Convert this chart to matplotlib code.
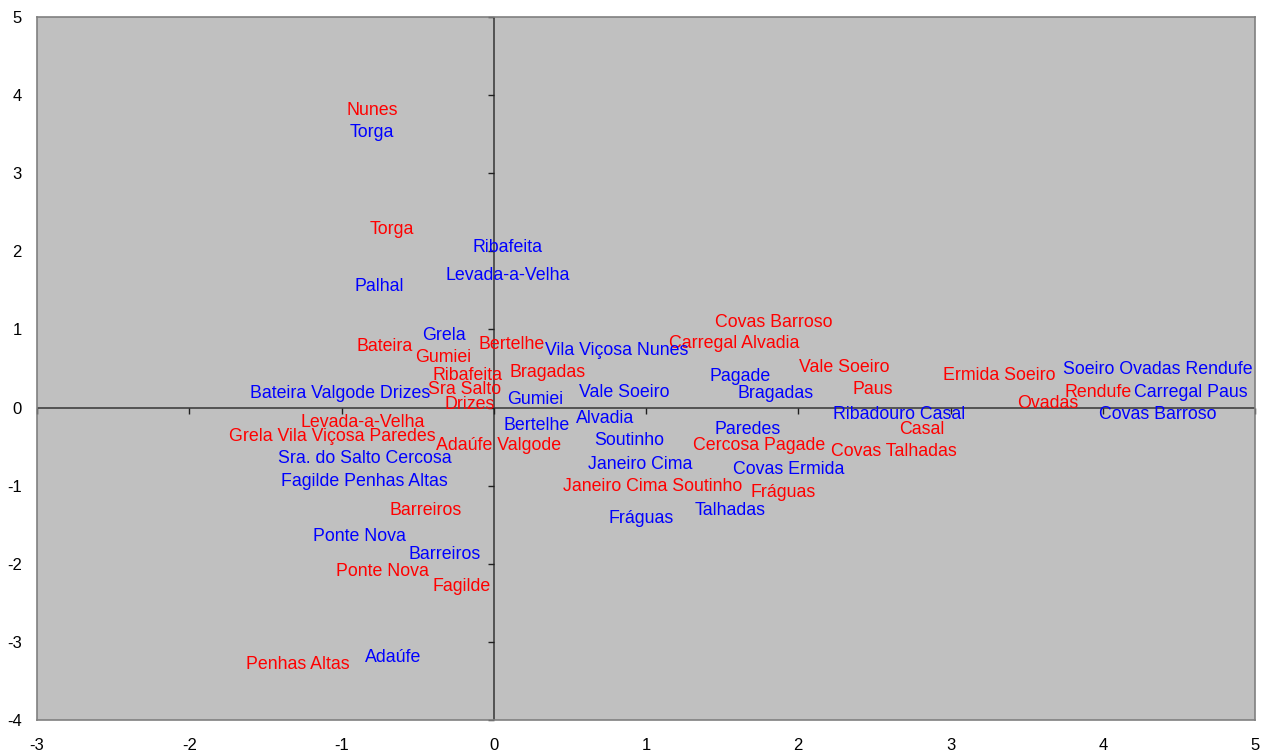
import numpy as np
import matplotlib.pyplot as plt

plt.rcParams["font.family"] = ["Liberation Sans", "DejaVu Sans"]
plt.rcParams["axes.unicode_minus"] = False

# Group 1 (red) - label and coordinates
red_labels = ["Nunes", "Torga", "Bateira", "Gumiei", "Bertelhe", "Ribafeita", "Bragadas",
              "Sra Salto", "Drizes", "Levada-a-Velha", "Grela Vila Viçosa Paredes",
              "Adaúfe Valgode", "Barreiros", "Ponte Nova", "Fagilde", "Penhas Altas",
              "Covas Barroso", "Carregal Alvadia", "Vale Soeiro", "Paus", "Ermida Soeiro",
              "Ovadas", "Rendufe", "Casal", "Covas Talhadas", "Cercosa Pagade",
              "Janeiro Cima Soutinho", "Fráguas"]
red_x = [-0.80, -0.67, -0.72, -0.33, 0.12, -0.17, 0.35,
         -0.19, -0.16, -0.86, -1.06,
         0.03, -0.45, -0.73, -0.21, -1.29,
         1.84, 1.58, 2.30, 2.49, 3.32,
         3.64, 3.97, 2.81, 2.63, 1.74,
         1.04, 1.90]
red_y = [3.83, 2.31, 0.81, 0.67, 0.83, 0.44, 0.47,
         0.26, 0.06, -0.17, -0.35,
         -0.46, -1.29, -2.07, -2.27, -3.27,
         1.11, 0.84, 0.54, 0.26, 0.44,
         0.08, 0.22, -0.25, -0.54, -0.46,
         -0.99, -1.06]

# Group 2 (blue)
blue_labels = ["Torga", "Ribafeita", "Levada-a-Velha", "Palhal", "Grela", "Vila Viçosa Nunes",
               "Gumiei", "Vale Soeiro", "Bateira Valgode Drizes", "Bertelhe", "Alvadia",
               "Soutinho", "Janeiro Cima", "Fráguas", "Sra. do Salto Cercosa",
               "Fagilde Penhas Altas", "Ponte Nova", "Barreiros", "Adaúfe", "Pagade",
               "Bragadas", "Paredes", "Covas Ermida", "Talhadas", "Ribadouro Casal",
               "Soeiro Ovadas Rendufe", "Carregal Paus", "Covas Barroso"]
blue_x = [-0.80, 0.09, 0.09, -0.75, -0.33, 0.81,
          0.27, 0.86, -1.01, 0.28, 0.73,
          0.89, 0.96, 0.97, -0.85,
          -0.85, -0.88, -0.32, -0.66, 1.62,
          1.85, 1.67, 1.94, 1.55, 2.66,
          4.36, 4.58, 4.36]
blue_y = [3.55, 2.08, 1.71, 1.57, 0.95, 0.75,
          0.13, 0.22, 0.20, -0.21, -0.11,
          -0.40, -0.70, -1.40, -0.63,
          -0.92, -1.63, -1.86, -3.17, 0.42,
          0.21, -0.25, -0.77, -1.29, -0.06,
          0.51, 0.22, -0.06]

xticks = np.arange(-3, 6)
yticks = np.arange(-4, 6)

fig = plt.figure(figsize=(12.65, 7.54), dpi=100)
ax = fig.add_axes([0.0293, 0.0451, 0.9628, 0.9324])
ax.set_facecolor("#C0C0C0")
ax.set_xlim(-3, 5)
ax.set_ylim(-4, 5)

for s in ax.spines.values():
    s.set_color("#808080")
    s.set_linewidth(1.2)

ax.set_xticks(xticks)
ax.set_yticks(yticks)
ax.tick_params(axis="both", length=0, labelsize=12, colors="black")
ax.tick_params(axis="x", pad=13)
ax.tick_params(axis="y", pad=11)

# axes crossing at the origin, with small tick marks
ax.axhline(0, color="#404040", lw=1.2, zorder=1)
ax.axvline(0, color="#404040", lw=1.2, zorder=1)
ax.plot(xticks, np.zeros(len(xticks)), linestyle="none", marker=3, markersize=4,
        color="#202020", mew=1, clip_on=False, zorder=1)
ax.plot(np.zeros(len(yticks)), yticks, linestyle="none", marker=0, markersize=4,
        color="#202020", mew=1, clip_on=False, zorder=1)

for name, x, y in zip(red_labels, red_x, red_y):
    ax.text(x, y, name, color="#FF0000", fontsize=12.8, ha="center",
            va="center_baseline", zorder=3)

for name, x, y in zip(blue_labels, blue_x, blue_y):
    ax.text(x, y, name, color="#0000FF", fontsize=12.8, ha="center",
            va="center_baseline", zorder=3)

plt.savefig("out.png", dpi=100)
